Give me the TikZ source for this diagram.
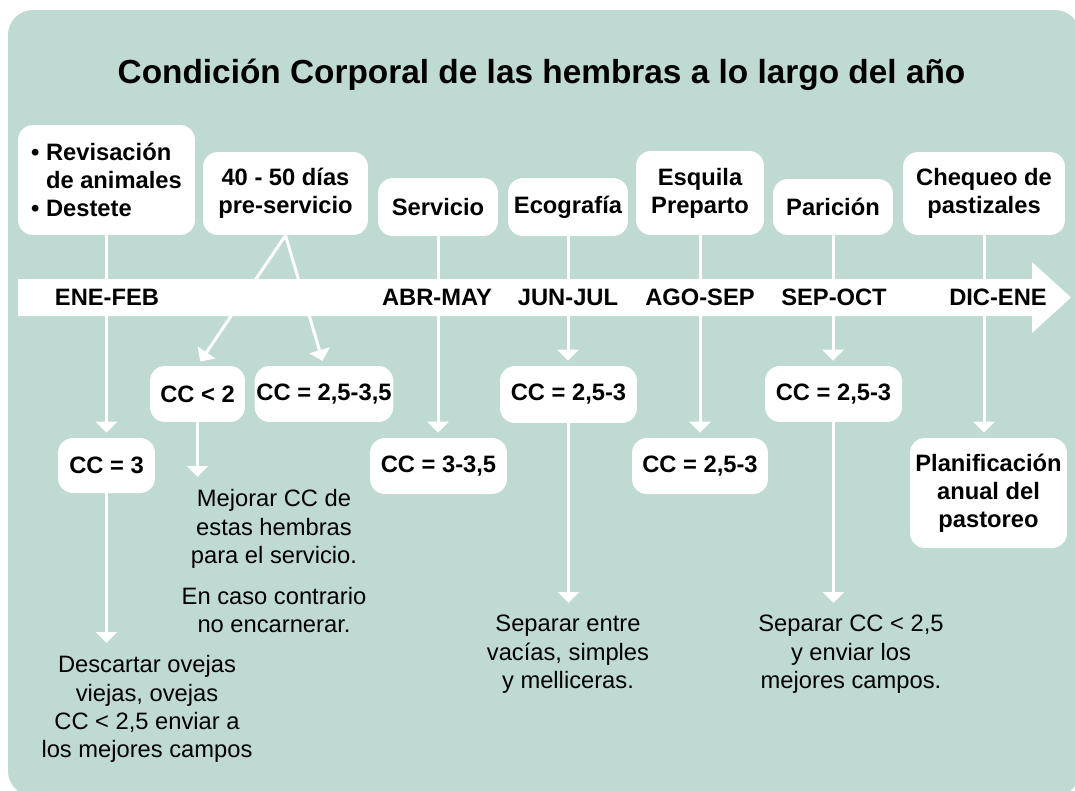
\documentclass[tikz,border=0pt]{standalone}
\usepackage{fontspec}
\setmainfont{Liberation Sans}
\usetikzlibrary{arrows.meta}
\definecolor{sage}{HTML}{BFD9D3}
\tikzset{
  box/.style={fill=white, rounded corners=0.3cm, align=center, inner sep=1pt,
    font=\bfseries\fontsize{13.5}{16}\selectfont},
  month/.style={font=\bfseries\fontsize{13.5}{16}\selectfont},
  note/.style={anchor=north, align=center, inner xsep=0pt, inner ysep=0.14cm,
    font=\fontsize{13.5}{16.2}\selectfont},
  link/.style={draw=white, line width=0.06cm},
  arr/.style={link, -{Triangle[width=0.42cm,length=0.22cm]}, shorten >=0.1cm},
}

\begin{document}
\begin{tikzpicture}[x=0.02cm, y=-0.02cm]
  \useasboundingbox (0,0) rectangle (1075,791);
  \clip (0,0) rectangle (1075,791);
  \fill[sage, rounded corners=0.5cm] (8,10) rectangle (1080,796);

  \node[anchor=base, font=\bfseries\fontsize{19}{22}\selectfont] (title) at (541.5,83)
    {Condición Corporal de las hembras a lo largo del año};

  % tareas
  \node[box, align=left, minimum width=3.54cm, minimum height=2.2cm] (rev) at (106.5,180)
    {• Revisación\\\hphantom{• }de animales\\• Destete};
  \node[box, minimum width=3.3cm, minimum height=1.66cm] (pre) at (285.5,193.5) {40 - 50 días\\pre-servicio};
  \node[box, minimum width=2.4cm, minimum height=1.16cm] (serv) at (438,207) {Servicio};
  \node[box, minimum width=2.4cm, minimum height=1.16cm] (eco) at (568,207) {Ecografía};
  \node[box, minimum width=2.56cm, minimum height=1.68cm] (esq) at (700,193) {Esquila\\Preparto};
  \node[box, minimum width=2.4cm, minimum height=1.12cm] (par) at (833,207) {Parición};
  \node[box, minimum width=3.24cm, minimum height=1.66cm] (cheq) at (984,193.5) {Chequeo de\\pastizales};

  % condicion corporal
  \node[box, minimum width=1.94cm, minimum height=1.1cm] (cc3) at (106.5,465.5) {CC = 3};
  \node[box, minimum width=1.9cm, minimum height=1.12cm] (ccdos) at (197.5,394) {CC < 2};
  \node[box, minimum width=2.76cm, minimum height=1.12cm] (ccpre) at (324,394) {CC = 2,5-3,5};
  \node[box, minimum width=2.74cm, minimum height=1.12cm] (ccserv) at (438.5,466) {CC = 3-3,5};
  \node[box, minimum width=2.74cm, minimum height=1.14cm] (cceco) at (568.5,394.5) {CC = 2,5-3};
  \node[box, minimum width=2.72cm, minimum height=1.12cm] (ccesq) at (700,466) {CC = 2,5-3};
  \node[box, minimum width=2.74cm, minimum height=1.12cm] (ccpar) at (833.5,394) {CC = 2,5-3};
  \node[box, minimum width=3.14cm, minimum height=2.2cm] (plan) at (988.5,493) {Planificación\\anual del\\pastoreo};

  % notas
  \node[note] (desc) at (147,648) {Descartar ovejas\\viejas, ovejas\\CC < 2,5 enviar a\\los mejores campos};
  \node[note] (mej) at (274,482) {Mejorar CC de\\estas hembras\\para el servicio.\\[7pt]En caso contrario\\no encarnerar.};
  \node[note] (sepa) at (568,608) {Separar entre\\vacías, simples\\y melliceras.};
  \node[note] (sepb) at (851,608) {Separar CC < 2,5\\y enviar los\\mejores campos.};

  \draw[arr] (rev.south) -- (rev.south |- cc3.north);
  \draw[arr] (pre.south) -- (ccdos.north);
  \draw[arr] (pre.south) -- (ccpre.north);
  \draw[arr] (serv.south) -- (serv.south |- ccserv.north);
  \draw[arr] (eco.south) -- (eco.south |- cceco.north);
  \draw[arr] (esq.south) -- (esq.south |- ccesq.north);
  \draw[arr] (par.south) -- (par.south |- ccpar.north);
  \draw[arr] (cheq.south) -- (cheq.south |- plan.north);
  \draw[arr] (cc3.south) -- (cc3.south |- desc.north);
  \draw[arr] (ccdos.south) -- (ccdos.south |- mej.north);
  \draw[arr] (cceco.south) -- (cceco.south |- sepa.north);
  \draw[arr] (ccpar.south) -- (ccpar.south |- sepb.north);

  % flecha del año
  \fill[white] (18,279) -- (1032,279) -- (1032,262) -- (1071,297.5) -- (1032,333)
    -- (1032,316) -- (18,316) -- cycle;
  \node[month] (ene) at (107,297.5) {ENE-FEB};
  \node[month] (abr) at (437,297.5) {ABR-MAY};
  \node[month] (jun) at (568,297.5) {JUN-JUL};
  \node[month] (ago) at (700,297.5) {AGO-SEP};
  \node[month] (sep) at (834,297.5) {SEP-OCT};
  \node[month] (dic) at (998,297.5) {DIC-ENE};
\end{tikzpicture}
\end{document}
